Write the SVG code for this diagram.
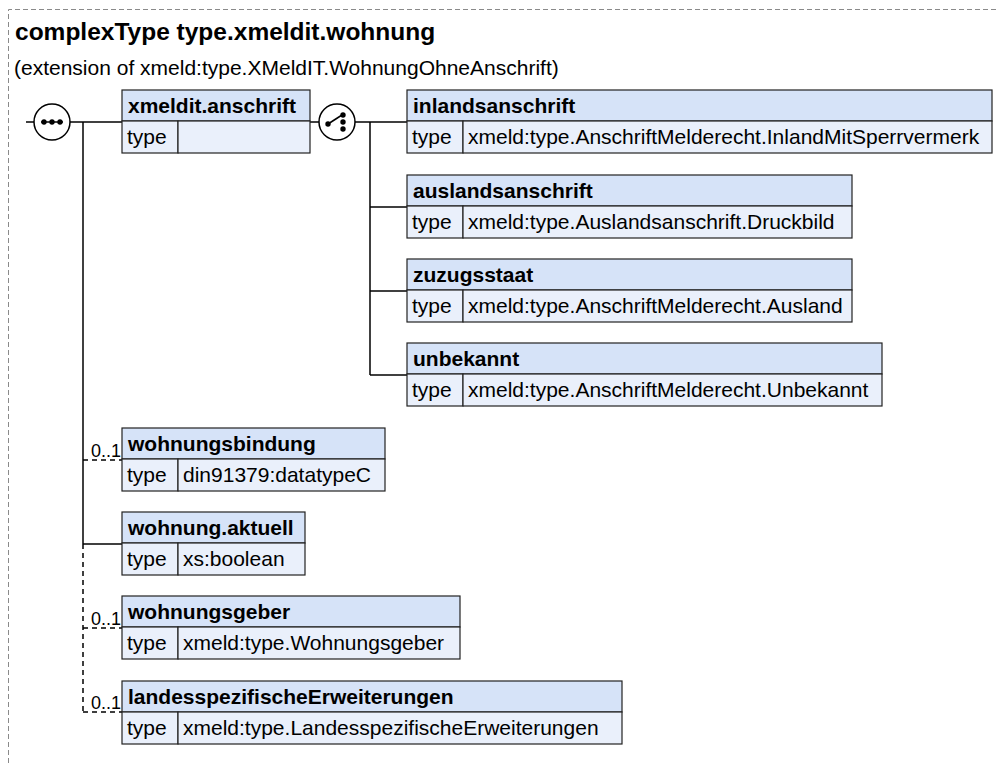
<svg xmlns="http://www.w3.org/2000/svg" width="998" height="763" viewBox="0 0 998 763">
<style>
.bg{fill:#ffffff}
.frame{fill:none;stroke:#8a8a8a;stroke-width:1;stroke-dasharray:5,3}
.title{font-family:"Liberation Sans",Arial,sans-serif;font-weight:bold;font-size:24.5px;fill:#000}
.sub{font-family:"Liberation Sans",Arial,sans-serif;font-size:21px;fill:#000}
.hd{fill:#d6e3f8;stroke:#222;stroke-width:1.2}
.rw{fill:#eaf0fb;stroke:#222;stroke-width:1.2}
.nm{font-family:"Liberation Sans",Arial,sans-serif;font-weight:bold;font-size:21px;fill:#000}
.tx{font-family:"Liberation Sans",Arial,sans-serif;font-size:21px;fill:#000}
.mul{font-family:"Liberation Sans",Arial,sans-serif;font-size:18px;fill:#000}
.ln{fill:none;stroke:#000;stroke-width:1.5}
.dl{fill:none;stroke:#000;stroke-width:1.5;stroke-dasharray:5,4}
.sym{fill:#fff;stroke:#000;stroke-width:1.5}
</style>
<rect class="bg" x="0" y="0" width="998" height="763"/>
<path class="frame" d="M8.5,763 V9.5 H998"/>
<text class="title" x="15" y="40">complexType type.xmeldit.wohnung</text>
<text class="sub" x="14" y="75">(extension of xmeld:type.XMeldIT.WohnungOhneAnschrift)</text>

<g id="connectors">
  <path class="ln" d="M26,122 H34"/>
  <path class="ln" d="M70,122 H122"/>
  <path class="ln" d="M83,122 V544"/>
  <path class="dl" d="M83,544 V712"/>
  <path class="dl" d="M83,460 H122"/>
  <path class="ln" d="M83,544 H122"/>
  <path class="dl" d="M83,628 H122"/>
  <path class="dl" d="M83,712 H122"/>
  <path class="ln" d="M310,122 H319"/>
  <path class="ln" d="M355,122 H407"/>
  <path class="ln" d="M370,122 V375"/>
  <path class="ln" d="M370,207 H407"/>
  <path class="ln" d="M370,291 H407"/>
  <path class="ln" d="M370,375 H407"/>
  <text class="mul" x="121" y="457" text-anchor="end">0..1</text>
  <text class="mul" x="121" y="625" text-anchor="end">0..1</text>
  <text class="mul" x="121" y="709" text-anchor="end">0..1</text>
</g>

<g id="sequence">
  <circle class="sym" cx="52" cy="122" r="18"/>
  <path d="M41,122 H63" stroke="#000" stroke-width="1.5"/>
  <circle cx="44" cy="122" r="2.7"/>
  <circle cx="52" cy="122" r="2.7"/>
  <circle cx="60" cy="122" r="2.7"/>
</g>

<g id="choice">
  <circle class="sym" cx="337" cy="122" r="18"/>
  <path d="M328,124 L342,115" stroke="#000" stroke-width="1.5"/>
  <circle cx="328" cy="124" r="2.7"/>
  <circle cx="343" cy="115" r="2.7"/>
  <circle cx="343" cy="122" r="2.7"/>
  <circle cx="343" cy="129" r="2.7"/>
</g>

<g id="xmeldit.anschrift">
  <rect class="hd" x="122" y="90" width="188" height="31"/>
  <rect class="rw" x="122" y="121" width="56" height="32"/>
  <rect class="rw" x="178" y="121" width="132" height="32"/>
  <text class="nm" x="128" y="113">xmeldit.anschrift</text>
  <text class="tx" x="127" y="144">type</text>
</g>

<g id="inlandsanschrift">
  <rect class="hd" x="407" y="90" width="585" height="31"/>
  <rect class="rw" x="407" y="121" width="56" height="32"/>
  <rect class="rw" x="463" y="121" width="529" height="32"/>
  <text class="nm" x="413" y="113">inlandsanschrift</text>
  <text class="tx" x="412" y="144">type</text>
  <text class="tx" x="468" y="144">xmeld:type.AnschriftMelderecht.InlandMitSperrvermerk</text>
</g>

<g id="auslandsanschrift">
  <rect class="hd" x="407" y="175" width="445" height="31"/>
  <rect class="rw" x="407" y="206" width="56" height="32"/>
  <rect class="rw" x="463" y="206" width="389" height="32"/>
  <text class="nm" x="413" y="198">auslandsanschrift</text>
  <text class="tx" x="412" y="229">type</text>
  <text class="tx" x="468" y="229">xmeld:type.Auslandsanschrift.Druckbild</text>
</g>

<g id="zuzugsstaat">
  <rect class="hd" x="407" y="259" width="445" height="31"/>
  <rect class="rw" x="407" y="290" width="56" height="32"/>
  <rect class="rw" x="463" y="290" width="389" height="32"/>
  <text class="nm" x="413" y="282">zuzugsstaat</text>
  <text class="tx" x="412" y="313">type</text>
  <text class="tx" x="468" y="313">xmeld:type.AnschriftMelderecht.Ausland</text>
</g>

<g id="unbekannt">
  <rect class="hd" x="407" y="343" width="475" height="31"/>
  <rect class="rw" x="407" y="374" width="56" height="32"/>
  <rect class="rw" x="463" y="374" width="419" height="32"/>
  <text class="nm" x="413" y="366">unbekannt</text>
  <text class="tx" x="412" y="397">type</text>
  <text class="tx" x="468" y="397">xmeld:type.AnschriftMelderecht.Unbekannt</text>
</g>

<g id="wohnungsbindung">
  <rect class="hd" x="122" y="428" width="263" height="31"/>
  <rect class="rw" x="122" y="459" width="56" height="32"/>
  <rect class="rw" x="178" y="459" width="207" height="32"/>
  <text class="nm" x="128" y="451">wohnungsbindung</text>
  <text class="tx" x="127" y="482">type</text>
  <text class="tx" x="183" y="482">din91379:datatypeC</text>
</g>

<g id="wohnung.aktuell">
  <rect class="hd" x="122" y="512" width="183" height="31"/>
  <rect class="rw" x="122" y="543" width="56" height="32"/>
  <rect class="rw" x="178" y="543" width="127" height="32"/>
  <text class="nm" x="128" y="535">wohnung.aktuell</text>
  <text class="tx" x="127" y="566">type</text>
  <text class="tx" x="183" y="566">xs:boolean</text>
</g>

<g id="wohnungsgeber">
  <rect class="hd" x="122" y="596" width="338" height="31"/>
  <rect class="rw" x="122" y="627" width="56" height="32"/>
  <rect class="rw" x="178" y="627" width="282" height="32"/>
  <text class="nm" x="128" y="619">wohnungsgeber</text>
  <text class="tx" x="127" y="650">type</text>
  <text class="tx" x="183" y="650">xmeld:type.Wohnungsgeber</text>
</g>

<g id="landesspezifischeErweiterungen">
  <rect class="hd" x="122" y="681" width="500" height="31"/>
  <rect class="rw" x="122" y="712" width="56" height="32"/>
  <rect class="rw" x="178" y="712" width="444" height="32"/>
  <text class="nm" x="128" y="704">landesspezifischeErweiterungen</text>
  <text class="tx" x="127" y="735">type</text>
  <text class="tx" x="183" y="735">xmeld:type.LandesspezifischeErweiterungen</text>
</g>
</svg>
